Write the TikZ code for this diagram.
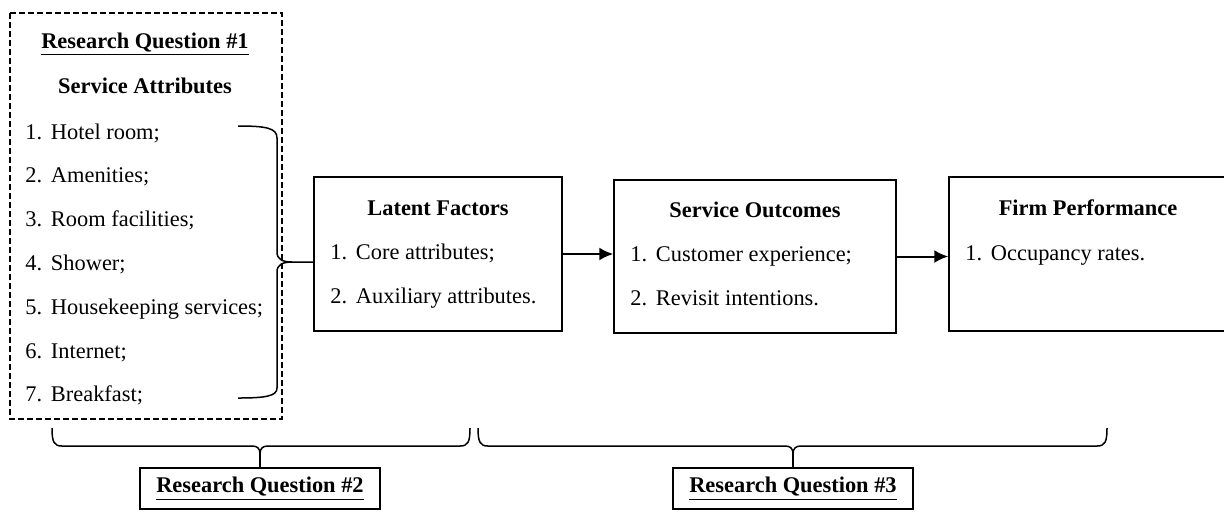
\documentclass[tikz,border=0pt]{standalone}
\usepackage{fontspec}
\setmainfont{Liberation Serif}
\usetikzlibrary{arrows.meta}

% numbered entry: number in a fixed slot, then the text
\newcommand{\numd}[2]{\makebox[12.8pt][l]{#1}#2}

\begin{document}
\begin{tikzpicture}[x=0.5pt,y=-0.5pt,>=Latex,
  every node/.style={font=\fontsize{11.2}{13.4}\selectfont,inner sep=0pt},
  entry/.style={anchor=base west},
  head/.style={anchor=base,font=\fontsize{11.2}{13.4}\selectfont\bfseries},
  framebox/.style={draw,line width=0.75pt},
  link/.style={line width=0.75pt}]
\useasboundingbox (0,0) rectangle (1224,511);

% research question 1: service attributes
\draw[line width=0.75pt,dash pattern=on 2.8pt off 1.7pt] (10,13) rectangle (282,419);
\node[head] (rq1) at (145,48) {\underline{Research Question \#1}};
\node[head] (sat) at (145,93) {Service Attributes};
\node[entry] (sa1) at (25,139) {\numd{1.}{Hotel room;}};
\node[entry] (sa2) at (25,182.8) {\numd{2.}{Amenities;}};
\node[entry] (sa3) at (25,226.6) {\numd{3.}{Room facilities;}};
\node[entry] (sa4) at (25,270.4) {\numd{4.}{Shower;}};
\node[entry] (sa5) at (25,314.2) {\numd{5.}{Housekeeping services;}};
\node[entry] (sa6) at (25,358) {\numd{6.}{Internet;}};
\node[entry] (sa7) at (25,401.8) {\numd{7.}{Breakfast;}};

% latent factors
\node[framebox,minimum width=124pt,minimum height=77pt] (lat) at (438,254) {};
\node[head] (latt) at (438,215) {Latent Factors};
\node[entry] (lat1) at (330,259) {\numd{1.}{Core attributes;}};
\node[entry] (lat2) at (330,303) {\numd{2.}{Auxiliary attributes.}};

% service outcomes
\node[framebox,minimum width=141pt,minimum height=76.5pt] (so) at (755,256.5) {};
\node[head] (sot) at (755,217) {Service Outcomes};
\node[entry] (so1) at (630,261) {\numd{1.}{Customer experience;}};
\node[entry] (so2) at (630,305) {\numd{2.}{Revisit intentions.}};

% firm performance
\node[framebox,minimum width=139pt,minimum height=77pt] (fp) at (1088,254) {};
\node[head] (fpt) at (1088,215) {Firm Performance};
\node[entry] (fp1) at (965,260) {\numd{1.}{Occupancy rates.}};

\draw[line width=1pt,-{Latex[length=7pt,width=6.5pt]}] (lat.east) -- (lat.east -| so.west);
\draw[line width=1pt,-{Latex[length=7pt,width=6.5pt]}] (so.east) -- (so.east -| fp.west);

% brace gathering the seven attributes
\draw[link] (238,126) .. controls (266,126) and (277,128) .. (277,138) -- (277,252)
  .. controls (277,259) and (282,262) .. (292,262) -- ([yshift=-4pt]lat.west);
\draw[link] (292,262) .. controls (282,262) and (277,265) .. (277,272) -- (277,388)
  .. controls (277,396) and (266,398) .. (238,398);

% research questions 2 and 3
\node[framebox,minimum width=120pt,minimum height=20.5pt] (rq2) at (260,488.5) {\bfseries\underline{Research Question \#2}};
\node[framebox,minimum width=120pt,minimum height=20.5pt] (rq3) at (793,488.5) {\bfseries\underline{Research Question \#3}};

\draw[link] (52,428) .. controls (52,442) and (54,446) .. (62,446) -- (252,446)
  .. controls (257,446) and (260,448) .. (260,454)
  .. controls (260,448) and (263,446) .. (268,446) -- (460,446)
  .. controls (468,446) and (470,442) .. (470,428);
\draw[link] (260,454) -- (rq2.north);

\draw[link] (478,428) .. controls (478,442) and (480,446) .. (488,446) -- (785,446)
  .. controls (790,446) and (793,448) .. (793,454)
  .. controls (793,448) and (796,446) .. (801,446) -- (1097,446)
  .. controls (1105,446) and (1107,442) .. (1107,428);
\draw[link] (793,454) -- (rq3.north);
\end{tikzpicture}
\end{document}
